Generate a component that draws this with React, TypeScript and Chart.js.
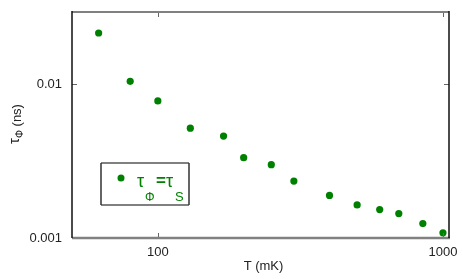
import React, { useEffect, useRef } from 'react';
import { Chart, registerables } from 'chart.js';

Chart.register(...registerables);

const temperatureMK = [62, 80, 100, 130, 170, 200, 250, 300, 400, 500, 600, 700, 850, 1000];
const tauPhiNs = [0.0214, 0.0104, 0.00776, 0.00516, 0.00459, 0.00332, 0.00299, 0.00234, 0.00189, 0.00164, 0.00153, 0.00144, 0.00124, 0.00108];
const xTickValues = [100, 1000];
const xTickLabels = ['100', '1000'];
const yTickValues = [0.001, 0.01];
const yTickLabels = ['0.001', '0.01'];
const xTitle = 'T (mK)';
const seriesColor = 'rgb(0,128,0)';
const FONT = '"Liberation Sans", Arial, sans-serif';

const framePlugin = {
  id: 'frame',
  afterDraw(chart: any) {
    const { ctx, chartArea: a, scales } = chart;
    const xs = scales.x;
    const ys = scales.y;
    ctx.save();
    // ticks (inward, mirrored)
    ctx.strokeStyle = '#666';
    ctx.lineWidth = 1;
    xTickValues.forEach((v) => {
      const px = Math.round(xs.getPixelForValue(v)) + 0.5;
      ctx.beginPath();
      ctx.moveTo(px, a.bottom);
      ctx.lineTo(px, a.bottom - 5);
      ctx.moveTo(px, a.top);
      ctx.lineTo(px, a.top + 5);
      ctx.stroke();
    });
    yTickValues.forEach((v) => {
      const py = Math.round(ys.getPixelForValue(v)) + 0.5;
      ctx.beginPath();
      ctx.moveTo(a.left, py);
      ctx.lineTo(a.left + 5, py);
      ctx.moveTo(a.right, py);
      ctx.lineTo(a.right - 5, py);
      ctx.stroke();
    });
    // frame
    ctx.strokeStyle = '#808080';
    ctx.lineWidth = 2;
    ctx.beginPath();
    ctx.moveTo(a.left, a.top);
    ctx.lineTo(a.right, a.top);
    ctx.stroke();
    ctx.lineWidth = 2.5;
    ctx.beginPath();
    ctx.moveTo(a.left, a.bottom);
    ctx.lineTo(a.right + 1, a.bottom);
    ctx.stroke();
    ctx.strokeStyle = '#111';
    ctx.lineWidth = 1.5;
    ctx.beginPath();
    ctx.moveTo(a.left, a.top - 1);
    ctx.lineTo(a.left, a.bottom);
    ctx.moveTo(a.right, a.top - 1);
    ctx.lineTo(a.right, a.bottom);
    ctx.stroke();

    // x title
    ctx.fillStyle = '#222';
    ctx.font = `13px ${FONT}`;
    ctx.textAlign = 'center';
    ctx.textBaseline = 'middle';
    ctx.fillText(xTitle, (a.left + a.right) / 2 + 3, 266);

    // y title (rotated) : tau_Phi (ns)
    ctx.save();
    ctx.translate(21, 124);
    ctx.rotate(-Math.PI / 2);
    ctx.textAlign = 'left';
    ctx.textBaseline = 'alphabetic';
    ctx.font = `15px ${FONT}`;
    const wTau = ctx.measureText('τ').width;
    ctx.font = `10px ${FONT}`;
    const wPhi = ctx.measureText('Φ').width;
    ctx.font = `13px ${FONT}`;
    const wRest = ctx.measureText(' (ns)').width;
    const total = wTau + wPhi + wRest;
    let cx = -total / 2;
    ctx.font = `15px ${FONT}`;
    ctx.fillText('τ', cx, -2);
    cx += wTau;
    ctx.font = `10px ${FONT}`;
    ctx.fillText('Φ', cx, 2);
    cx += wPhi;
    ctx.font = `13px ${FONT}`;
    ctx.fillText(' (ns)', cx, 0);
    ctx.restore();

    // legend box
    const lx = 101, ly = 163, lw = 88, lh = 42;
    ctx.strokeStyle = '#808080';
    ctx.lineWidth = 2;
    ctx.beginPath();
    ctx.moveTo(lx, ly);
    ctx.lineTo(lx + lw, ly);
    ctx.moveTo(lx, ly + lh);
    ctx.lineTo(lx + lw, ly + lh);
    ctx.stroke();
    ctx.strokeStyle = '#333';
    ctx.lineWidth = 1.5;
    ctx.beginPath();
    ctx.moveTo(lx, ly);
    ctx.lineTo(lx, ly + lh);
    ctx.moveTo(lx + lw, ly);
    ctx.lineTo(lx + lw, ly + lh);
    ctx.stroke();
    ctx.fillStyle = seriesColor;
    ctx.beginPath();
    ctx.arc(121, 178, 3.5, 0, Math.PI * 2);
    ctx.fill();
    ctx.textAlign = 'left';
    ctx.textBaseline = 'alphabetic';
    ctx.font = `18px ${FONT}`;
    ctx.fillText('τ', 137, 187);
    ctx.font = `12px ${FONT}`;
    ctx.fillText('Φ', 145, 201);
    ctx.font = `bold 17px ${FONT}`;
    ctx.fillText('=', 156, 186);
    ctx.font = `18px ${FONT}`;
    ctx.fillText('τ', 166, 187);
    ctx.font = `13px ${FONT}`;
    ctx.fillText('S', 175, 201);
    ctx.restore();
  },
};

export default function App() {
  const ref = useRef<HTMLCanvasElement | null>(null);
  useEffect(() => {
    document.body.style.margin = '0';
    const canvas = ref.current;
    if (!canvas) return;
    const chart = new Chart(canvas, {
      type: 'scatter',
      data: {
        datasets: [
          {
            label: 'tau',
            data: temperatureMK.map((t, i) => ({ x: t, y: tauPhiNs[i] })),
            backgroundColor: seriesColor,
            borderColor: seriesColor,
            borderWidth: 0,
            pointRadius: 3.6,
            pointHoverRadius: 3.6,
            showLine: false,
          },
        ],
      },
      options: {
        responsive: false,
        animation: false,
        events: [],
        layout: { padding: { top: 12, right: 14, left: 0, bottom: 0 } },
        plugins: { legend: { display: false }, tooltip: { enabled: false }, title: { display: false } },
        scales: {
          x: {
            type: 'logarithmic',
            position: 'bottom',
            min: 50,
            max: 1050,
            grid: { display: false, drawTicks: false },
            border: { display: false },
            afterBuildTicks: (s: any) => {
              s.ticks = xTickValues.map((v) => ({ value: v }));
            },
            afterFit: (s: any) => {
              s.height = 41;
              s.paddingLeft = 0;
              s.paddingRight = 0;
              s.paddingTop = 0;
              s.paddingBottom = 0;
            },
            ticks: {
              autoSkip: false,
              maxRotation: 0,
              padding: 7,
              color: '#222',
              font: { family: FONT, size: 13 },
              callback: (v: any) => {
                const i = xTickValues.indexOf(Number(v));
                return i >= 0 ? xTickLabels[i] : '';
              },
            },
          },
          y: {
            type: 'logarithmic',
            position: 'left',
            min: 0.001,
            max: 0.0293,
            grid: { display: false, drawTicks: false },
            border: { display: false },
            afterBuildTicks: (s: any) => {
              s.ticks = yTickValues.map((v) => ({ value: v }));
            },
            afterFit: (s: any) => {
              s.width = 72;
              s.paddingLeft = 0;
              s.paddingRight = 0;
              s.paddingTop = 0;
              s.paddingBottom = 0;
            },
            ticks: {
              autoSkip: false,
              padding: 10,
              color: '#222',
              font: { family: FONT, size: 13 },
              callback: (v: any) => {
                const i = yTickValues.findIndex((t) => Math.abs(t - Number(v)) < 1e-9);
                return i >= 0 ? yTickLabels[i] : '';
              },
            },
          },
        },
      },
      plugins: [framePlugin],
    });
    return () => chart.destroy();
  }, []);
  return <canvas ref={ref} width={463} height={279} style={{ display: 'block' }} />;
}
